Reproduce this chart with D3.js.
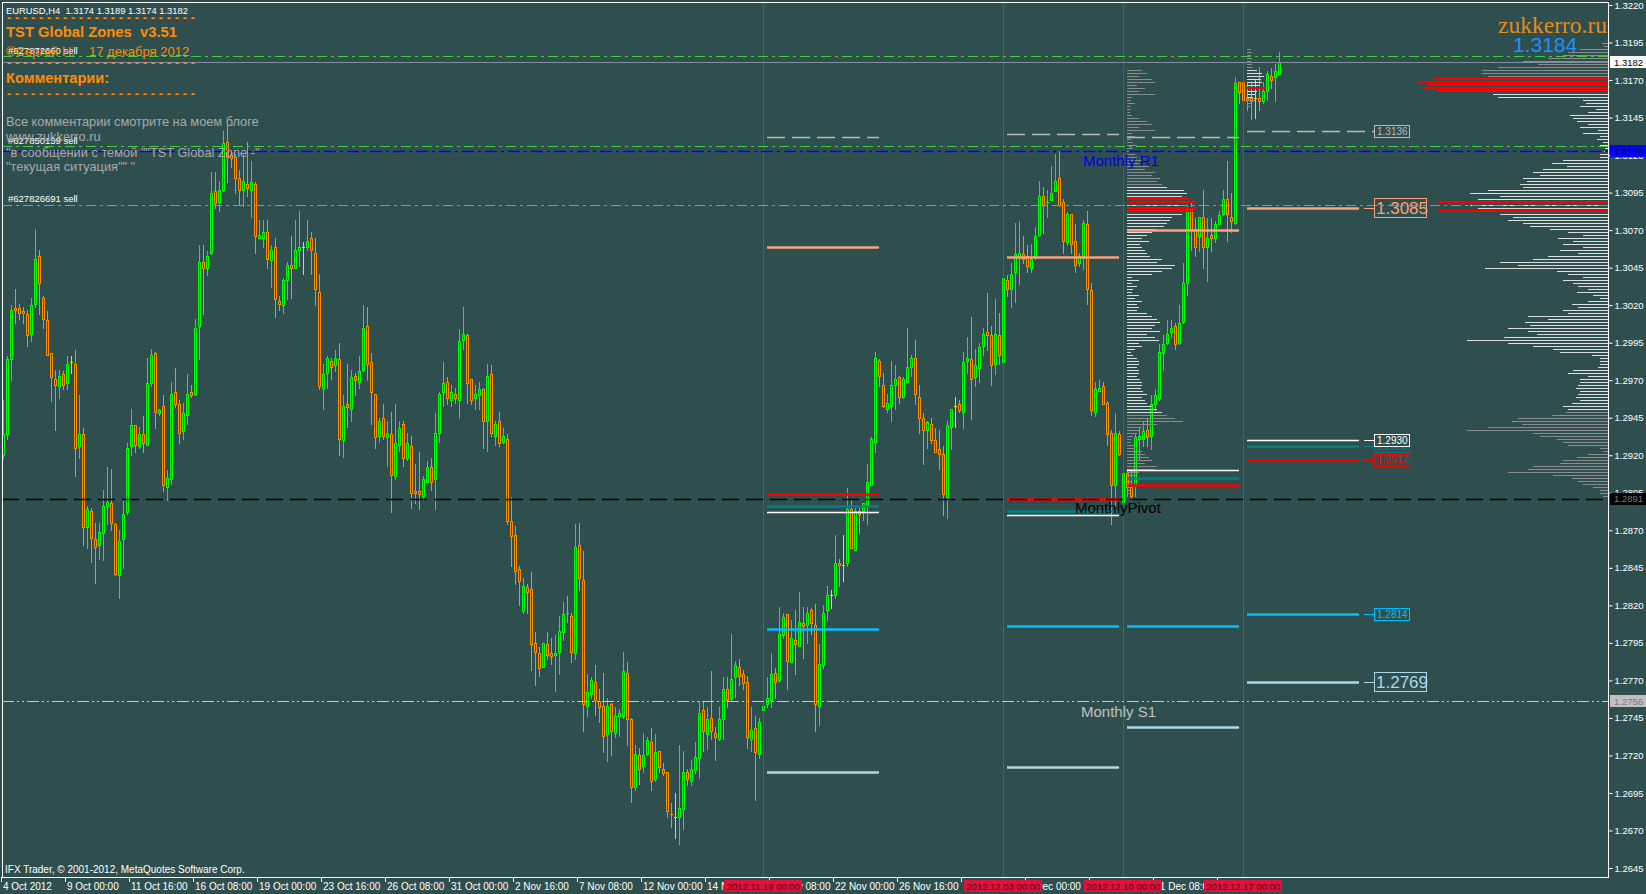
<!DOCTYPE html>
<html><head><meta charset="utf-8">
<script src="https://cdn.jsdelivr.net/npm/d3@7"></script>
<style>
html,body{margin:0;padding:0;background:#2F4F4F;overflow:hidden;}
svg{display:block;}
text{font-family:"Liberation Sans",Arial,sans-serif;white-space:pre;}
</style></head><body>
<svg id="chart" width="1646" height="894"></svg>
<script>
// ---------------- DATA ----------------
const symbolHeader = "EURUSD,H4  1.3174 1.3189 1.3174 1.3182";
// H4 candles: [open, high, low, close]
const candles = [
[1.2920,1.2957,1.2918,1.2934],[1.2934,1.2986,1.2931,1.2984],[1.2984,1.3020,1.2970,1.3017],[1.3018,1.3031,1.3008,1.3017],
[1.3018,1.3021,1.3011,1.3015],[1.3016,1.3019,1.3008,1.3015],[1.3014,1.3017,1.2993,1.3000],[1.3001,1.3025,1.2996,1.3020],
[1.3021,1.3071,1.3019,1.3051],[1.3053,1.3057,1.3014,1.3035],[1.3025,1.3026,1.3005,1.3011],[1.3010,1.3016,1.2987,1.2987],
[1.2988,1.2988,1.2956,1.2972],[1.2971,1.2977,1.2937,1.2967],[1.2966,1.2977,1.2958,1.2973],[1.2974,1.2976,1.2964,1.2967],
[1.2968,1.2986,1.2964,1.2981],[1.2982,1.2986,1.2975,1.2982],[1.2981,1.2990,1.2906,1.2925],[1.2926,1.2960,1.2918,1.2934],
[1.2934,1.2938,1.2860,1.2872],[1.2872,1.2886,1.2858,1.2884],[1.2883,1.2885,1.2849,1.2865],[1.2864,1.2875,1.2835,1.2859],
[1.2860,1.2875,1.2851,1.2869],[1.2868,1.2897,1.2850,1.2886],[1.2886,1.2912,1.2874,1.2889],[1.2888,1.2911,1.2870,1.2875],
[1.2874,1.2875,1.2840,1.2841],[1.2840,1.2870,1.2825,1.2863],[1.2864,1.2891,1.2845,1.2881],[1.2882,1.2928,1.2881,1.2925],
[1.2926,1.2951,1.2920,1.2940],[1.2940,1.2940,1.2922,1.2927],[1.2926,1.2939,1.2925,1.2934],[1.2934,1.2946,1.2922,1.2928],
[1.2927,1.2985,1.2927,1.2968],[1.2968,1.2991,1.2966,1.2987],[1.2988,1.2989,1.2938,1.2949],[1.2948,1.2951,1.2947,1.2950],
[1.2953,1.2960,1.2896,1.2900],[1.2899,1.2910,1.2890,1.2905],[1.2904,1.2969,1.2901,1.2961],[1.2962,1.2978,1.2952,1.2954],
[1.2954,1.2957,1.2928,1.2935],[1.2936,1.2955,1.2931,1.2948],[1.2947,1.2974,1.2941,1.2961],[1.2962,1.2967,1.2959,1.2960],
[1.2961,1.3011,1.2960,1.3005],[1.3006,1.3060,1.2984,1.3049],[1.3049,1.3060,1.3014,1.3045],[1.3045,1.3056,1.3040,1.3053],
[1.3055,1.3109,1.3054,1.3095],[1.3096,1.3109,1.3085,1.3088],[1.3089,1.3103,1.3083,1.3097],[1.3097,1.3136,1.3096,1.3128],
[1.3129,1.3140,1.3102,1.3119],[1.3120,1.3123,1.3112,1.3118],[1.3119,1.3121,1.3095,1.3105],[1.3105,1.3110,1.3087,1.3097],
[1.3097,1.3120,1.3086,1.3103],[1.3101,1.3129,1.3093,1.3098],[1.3097,1.3116,1.3079,1.3102],[1.3101,1.3102,1.3055,1.3066],
[1.3065,1.3077,1.3065,1.3067],[1.3065,1.3077,1.3059,1.3069],[1.3069,1.3077,1.3045,1.3051],[1.3050,1.3060,1.3032,1.3057],
[1.3059,1.3065,1.3012,1.3024],[1.3023,1.3026,1.3017,1.3021],[1.3020,1.3038,1.3015,1.3037],[1.3037,1.3049,1.3024,1.3047],
[1.3047,1.3066,1.3025,1.3045],[1.3045,1.3077,1.3045,1.3057],[1.3057,1.3083,1.3046,1.3059],[1.3059,1.3062,1.3041,1.3059],
[1.3059,1.3077,1.3057,1.3063],[1.3065,1.3069,1.3041,1.3057],[1.3055,1.3065,1.3020,1.3031],[1.3029,1.3041,1.2964,1.2966],
[1.2965,1.2981,1.2951,1.2974],[1.2975,1.2986,1.2965,1.2985],[1.2983,1.2985,1.2971,1.2979],[1.2980,1.2990,1.2976,1.2985],
[1.2984,1.2995,1.2920,1.2931],[1.2930,1.2960,1.2919,1.2953],[1.2954,1.2981,1.2939,1.2952],[1.2951,1.2977,1.2943,1.2972],
[1.2973,1.2975,1.2960,1.2970],[1.2969,1.2986,1.2965,1.2976],[1.2977,1.3020,1.2976,1.3005],[1.3006,1.3019,1.2970,1.2981],
[1.2982,1.2988,1.2941,1.2962],[1.2961,1.2961,1.2925,1.2932],[1.2933,1.2945,1.2929,1.2943],[1.2945,1.2954,1.2931,1.2933],
[1.2932,1.2943,1.2913,1.2935],[1.2934,1.2949,1.2882,1.2907],[1.2906,1.2954,1.2904,1.2928],[1.2927,1.2943,1.2923,1.2938],
[1.2941,1.2943,1.2913,1.2918],[1.2918,1.2935,1.2917,1.2928],[1.2926,1.2933,1.2885,1.2895],[1.2896,1.2914,1.2888,1.2895],
[1.2896,1.2922,1.2884,1.2894],[1.2893,1.2906,1.2890,1.2904],[1.2902,1.2916,1.2902,1.2912],[1.2912,1.2918,1.2897,1.2902],
[1.2904,1.2948,1.2884,1.2935],[1.2935,1.2962,1.2929,1.2961],[1.2962,1.2982,1.2953,1.2968],[1.2969,1.2972,1.2954,1.2958],
[1.2957,1.2967,1.2953,1.2962],[1.2961,1.2965,1.2955,1.2958],[1.2957,1.3004,1.2945,1.2996],[1.2997,1.3019,1.2991,1.3001],
[1.3000,1.3001,1.2955,1.2968],[1.2971,1.2971,1.2954,1.2957],[1.2958,1.2967,1.2951,1.2961],[1.2960,1.2969,1.2951,1.2964],
[1.2964,1.2965,1.2925,1.2943],[1.2943,1.2981,1.2923,1.2973],[1.2974,1.2980,1.2933,1.2935],[1.2933,1.2943,1.2927,1.2941],
[1.2943,1.2949,1.2926,1.2928],[1.2929,1.2938,1.2928,1.2933],[1.2931,1.2934,1.2874,1.2876],[1.2876,1.2892,1.2846,1.2866],
[1.2867,1.2873,1.2834,1.2843],[1.2844,1.2846,1.2820,1.2836],[1.2816,1.2838,1.2815,1.2833],[1.2832,1.2834,1.2815,1.2829],
[1.2831,1.2842,1.2777,1.2794],[1.2795,1.2802,1.2767,1.2789],[1.2788,1.2792,1.2773,1.2778],[1.2779,1.2795,1.2779,1.2795],
[1.2794,1.2802,1.2784,1.2787],[1.2788,1.2798,1.2781,1.2786],[1.2787,1.2800,1.2763,1.2788],[1.2789,1.2813,1.2774,1.2803],
[1.2802,1.2822,1.2797,1.2814],[1.2815,1.2826,1.2809,1.2814],[1.2813,1.2815,1.2782,1.2789],[1.2788,1.2874,1.2784,1.2859],
[1.2860,1.2875,1.2830,1.2838],[1.2837,1.2856,1.2736,1.2754],[1.2753,1.2774,1.2746,1.2762],[1.2761,1.2772,1.2758,1.2770],
[1.2769,1.2780,1.2747,1.2757],[1.2756,1.2764,1.2742,1.2752],[1.2753,1.2775,1.2722,1.2733],[1.2734,1.2758,1.2716,1.2753],
[1.2754,1.2755,1.2720,1.2736],[1.2735,1.2752,1.2732,1.2746],[1.2746,1.2751,1.2733,1.2748],[1.2746,1.2789,1.2745,1.2776],
[1.2775,1.2782,1.2727,1.2744],[1.2744,1.2745,1.2689,1.2699],[1.2699,1.2727,1.2697,1.2721],[1.2720,1.2725,1.2701,1.2711],
[1.2713,1.2735,1.2709,1.2720],[1.2721,1.2732,1.2720,1.2730],[1.2729,1.2738,1.2697,1.2703],[1.2704,1.2734,1.2703,1.2722],
[1.2723,1.2723,1.2709,1.2712],[1.2711,1.2715,1.2707,1.2708],[1.2709,1.2709,1.2679,1.2683],[1.2681,1.2688,1.2672,1.2680],
[1.2679,1.2695,1.2665,1.2679],[1.2679,1.2727,1.2661,1.2685],[1.2684,1.2723,1.2671,1.2709],[1.2709,1.2711,1.2700,1.2704],
[1.2703,1.2717,1.2700,1.2711],[1.2710,1.2729,1.2708,1.2719],[1.2718,1.2756,1.2705,1.2748],[1.2750,1.2756,1.2723,1.2736],
[1.2734,1.2752,1.2724,1.2744],[1.2745,1.2776,1.2731,1.2736],[1.2735,1.2739,1.2717,1.2732],[1.2731,1.2752,1.2730,1.2744],
[1.2744,1.2772,1.2731,1.2764],[1.2764,1.2772,1.2752,1.2757],[1.2758,1.2801,1.2757,1.2771],[1.2772,1.2783,1.2759,1.2780],
[1.2779,1.2784,1.2767,1.2773],[1.2774,1.2777,1.2764,1.2768],[1.2769,1.2773,1.2725,1.2732],[1.2731,1.2752,1.2723,1.2737],
[1.2738,1.2746,1.2690,1.2722],[1.2721,1.2745,1.2718,1.2742],[1.2750,1.2754,1.2749,1.2753],[1.2754,1.2772,1.2752,1.2758],
[1.2757,1.2788,1.2752,1.2774],[1.2775,1.2778,1.2758,1.2769],[1.2770,1.2819,1.2769,1.2801],[1.2800,1.2815,1.2798,1.2812],
[1.2814,1.2814,1.2764,1.2783],[1.2782,1.2810,1.2782,1.2798],[1.2797,1.2817,1.2774,1.2794],[1.2793,1.2829,1.2793,1.2809],
[1.2808,1.2819,1.2785,1.2806],[1.2807,1.2819,1.2795,1.2815],[1.2817,1.2818,1.2801,1.2808],[1.2807,1.2821,1.2736,1.2754],
[1.2753,1.2794,1.2740,1.2781],[1.2780,1.2820,1.2778,1.2815],[1.2817,1.2833,1.2810,1.2827],[1.2827,1.2830,1.2818,1.2827],
[1.2827,1.2867,1.2825,1.2848],[1.2848,1.2851,1.2833,1.2847],[1.2847,1.2867,1.2836,1.2847],[1.2848,1.2898,1.2846,1.2884],
[1.2884,1.2891,1.2858,1.2858],[1.2857,1.2885,1.2857,1.2883],[1.2883,1.2885,1.2868,1.2881],[1.2883,1.2888,1.2877,1.2888],
[1.2887,1.2914,1.2874,1.2902],[1.2900,1.2932,1.2900,1.2931],[1.2929,1.2989,1.2922,1.2985],[1.2983,1.2984,1.2966,1.2973],
[1.2967,1.2975,1.2952,1.2953],[1.2951,1.2961,1.2949,1.2955],[1.2953,1.2983,1.2943,1.2967],[1.2967,1.2980,1.2951,1.2971],
[1.2972,1.2973,1.2955,1.2959],[1.2959,1.2972,1.2958,1.2971],[1.2969,1.3005,1.2969,1.2979],[1.2979,1.2987,1.2973,1.2985],
[1.2985,1.2997,1.2954,1.2961],[1.2959,1.2967,1.2935,1.2945],[1.2945,1.2948,1.2914,1.2937],[1.2937,1.2943,1.2925,1.2942],
[1.2941,1.2945,1.2928,1.2930],[1.2930,1.2938,1.2922,1.2922],[1.2924,1.2937,1.2911,1.2921],[1.2921,1.2926,1.2880,1.2894],
[1.2892,1.2943,1.2878,1.2940],[1.2939,1.2951,1.2924,1.2951],[1.2953,1.2959,1.2939,1.2953],[1.2954,1.2957,1.2949,1.2950],
[1.2949,1.2989,1.2938,1.2982],[1.2983,1.2999,1.2975,1.2985],[1.2984,1.3012,1.2944,1.2971],[1.2972,1.2991,1.2966,1.2980],
[1.2978,1.2995,1.2969,1.2992],[1.2993,1.3005,1.2987,1.3001],[1.3002,1.3028,1.2990,1.3000],[1.3000,1.3006,1.2967,1.2980],
[1.2981,1.3024,1.2974,1.3001],[1.3000,1.3015,1.2981,1.2987],[1.2982,1.3039,1.2981,1.3038],[1.3037,1.3040,1.3026,1.3031],
[1.3031,1.3048,1.3019,1.3041],[1.3042,1.3075,1.3022,1.3054],[1.3052,1.3076,1.3034,1.3055],[1.3054,1.3066,1.3048,1.3051],
[1.3053,1.3060,1.3042,1.3046],[1.3045,1.3061,1.3042,1.3051],[1.3052,1.3072,1.3051,1.3066],[1.3067,1.3103,1.3066,1.3093],
[1.3093,1.3099,1.3068,1.3087],[1.3088,1.3097,1.3079,1.3089],[1.3090,1.3113,1.3090,1.3095],[1.3096,1.3121,1.3096,1.3103],
[1.3105,1.3123,1.3086,1.3087],[1.3089,1.3091,1.3055,1.3063],[1.3062,1.3082,1.3060,1.3081],[1.3081,1.3081,1.3055,1.3061],
[1.3063,1.3074,1.3042,1.3047],[1.3048,1.3055,1.3046,1.3053],[1.3053,1.3077,1.3044,1.3075],[1.3074,1.3083,1.3021,1.3031],
[1.3030,1.3035,1.2947,1.2950],[1.2949,1.2969,1.2946,1.2964],[1.2963,1.2970,1.2963,1.2965],[1.2966,1.2969,1.2954,1.2954],
[1.2955,1.2956,1.2927,1.2934],[1.2935,1.2937,1.2874,1.2900],[1.2900,1.2948,1.2886,1.2935],[1.2934,1.2936,1.2920,1.2921],
[1.2889,1.2910,1.2887,1.2908],[1.2908,1.2910,1.2893,1.2899],[1.2899,1.2911,1.2890,1.2893],[1.2900,1.2935,1.2893,1.2932],
[1.2931,1.2938,1.2917,1.2933],[1.2931,1.2943,1.2926,1.2936],[1.2937,1.2944,1.2926,1.2932],[1.2933,1.2960,1.2924,1.2954],
[1.2954,1.2964,1.2950,1.2960],[1.2958,1.2994,1.2957,1.2989],[1.2988,1.3000,1.2977,1.2994],[1.2995,1.3010,1.2994,1.3001],
[1.3002,1.3010,1.2999,1.3005],[1.3006,1.3008,1.2991,1.2994],[1.2995,1.3020,1.2994,1.3008],[1.3009,1.3048,1.3008,1.3035],
[1.3035,1.3086,1.3027,1.3083],[1.3085,1.3089,1.3057,1.3071],[1.3071,1.3078,1.3053,1.3059],[1.3066,1.3079,1.3056,1.3079],
[1.3079,1.3097,1.3045,1.3059],[1.3059,1.3078,1.3036,1.3065],[1.3067,1.3078,1.3056,1.3065],[1.3065,1.3076,1.3062,1.3074],
[1.3074,1.3083,1.3074,1.3080],[1.3081,1.3097,1.3080,1.3091],[1.3091,1.3116,1.3063,1.3081],[1.3079,1.3095,1.3069,1.3076],
[1.3075,1.3172,1.3074,1.3168],[1.3169,1.3169,1.3155,1.3162],[1.3169,1.3170,1.3155,1.3157],[1.3158,1.3168,1.3150,1.3157],
[1.3158,1.3168,1.3144,1.3156],[1.3158,1.3171,1.3145,1.3158],[1.3158,1.3179,1.3150,1.3156],[1.3156,1.3169,1.3155,1.3163],
[1.3163,1.3176,1.3157,1.3174],[1.3173,1.3178,1.3165,1.3170],[1.3172,1.3181,1.3156,1.3176],[1.3174,1.3189,1.3174,1.3182]
];

const priceTicks = [1.2645,1.2670,1.2695,1.2720,1.2745,1.2770,1.2795,1.2820,1.2845,1.2870,1.2895,1.2920,
                    1.2945,1.2970,1.2995,1.3020,1.3045,1.3070,1.3095,1.3120,1.3145,1.3170,1.3195,1.3220];

// time-axis ticks (bar index) and the labels that remain visible
const timeTickBars   = [0,16,32,48,64,80,96,112,128,144,160,176,192,208,224,240,256,272,288,304];
const timeTickLabels = ["4 Oct 2012","9 Oct 00:00","11 Oct 16:00","16 Oct 08:00","19 Oct 00:00","23 Oct 16:00",
  "26 Oct 08:00","31 Oct 00:00","2 Nov 16:00","7 Nov 08:00","12 Nov 00:00","14 Nov 16:00","19 Nov 08:00",
  "22 Nov 00:00","26 Nov 16:00","","4 Dec 00:00","","11 Dec 08:00",""];

const weekStartBars   = [190, 250, 280, 310];
const weekStartLabels = ["2012.11.19 00:00","2012.12.03 00:00","2012.12.10 00:00","2012.12.17 00:00"];

// weekly zone levels (one value per week above)
const zoneGrayDash  = [1.3132, 1.3134, 1.3132, 1.3136];
const zonePeach     = [1.3059, 1.3052, 1.3070, 1.3085];
const zoneLightBlue = [1.2709, 1.2712, 1.2739, 1.2769];
const zoneBlue      = [1.2804, 1.2806, 1.2806, 1.2814];
const zoneTeal      = [1.2886, 1.2883, 1.2905, 1.2926];
const zoneWhite     = [1.2882, 1.2880, 1.2910, 1.2930];
const zoneRed       = [1.2894, 1.2891, 1.2900, 1.2917];

const monthlyR1 = 1.3123, monthlyPivot = 1.2891, monthlyS1 = 1.2756;
const sellOrderPrices = [1.3186, 1.3126, 1.3087];
const sellOrderIds    = ["#627872660 sell", "#627850159 sell", "#627826691 sell"];
const lastPrice = 1.3182;
const askPriceText = "1.3184";

// volume profiles: volume per 2-pip level, from top price downward
const rightProfileTop = 1.3195;
const rightProfileVol = [6,4,28,40,45,60,85,70,110,126, 126,120,175,190,180,185,170,115,110,25,
  22,28,12,20,38,35,31,20,28,10, 25,8,11,5,8,3,4,8,8,45, 56,41,65,75,68,85,81,88,85,120,
  138,108,130,170,138,130,170,108,95,100, 85,78,58,40,25,50,35,45,25,48, 30,60,75,108,90,123,51,40,25,45,
  35,30,20,31,15,8,20,36,30,45, 40,80,60,83,78,100,80,71,104,141, 100,75,55,48,16,8,8,8,10,35,
  40,20,28,28,30,32,28,30,32,28, 36,45,40,42,56,90,96,86,120,141, 75,68,51,45,40,8,5,20,31,45,
  48,75,80,100,55,36,30,25,15,8, 8,5];
const rightProfileVA  = [1.2951, 1.3171];
const rightProfilePOC = [1.3171,1.3169,1.3167,1.3165,1.3163,1.3089,1.3083];

const weekProfileTop = 1.3177;
const weekProfileVol = [15,20,12,25,28,10,18,12,28,5, 4,8,3,4,3,5,12,20,25,12, 28,5,8,4,6,10,6,5,8,10,
  15,12,22,18,28,25,33,30,35,40, 57,60,55,62,68,58,68,66,55,45, 43,40,37,30,25,20,15,22,13,15,
  18,20,23,35,30,48,45,35,25,5, 12,5,10,6,5,12,8,15,10,12, 10,20,25,30,33,28,25,33,20,28,
  32,12,15,8,4,6,10,12,12,10, 12,12,10,13,15,15,14,16,20,15, 18,20,25,30,35,40,48,56,30,15,
  12,10,6,4,4,8,8,15,18,22, 25,18,30,28,12,8,6,5,4,4, 3,2];
const weekProfileVA  = [1.2949, 1.3099];
const weekProfilePOC = [1.3091,1.3089,1.3085,1.3083];

const curProfileTop = 1.3191;
const curProfileVol = [4,5,4,5,4,5,6,10,15,17,14,15,12,18,10,8,6,8,4,3];
const curProfileVA  = [1.3159, 1.3177];
const curProfilePOC = [1.3165];

const titleText = "TST Global Zones  v3.51";
const authorText = "©Сергей Н.";
const dateText = "17 декабря 2012";
const commentsTitle = "Комментарии:";
const commentLines = ["Все комментарии смотрите на моем блоге", "www.zukkerro.ru",
  "\"в сообщении с темой \"\"TST Global Zone -\"", "\"текущая ситуация\"\" \""];
const dashText = "- - - - - - - - - - - - - - - - - - - - - - - -";

// ---------------- DRAW ----------------
const BG = "#2F4F4F", UP = "#00FF00", DOWN = "#FF8C00", DOJI = "#FFD700";
const svg = d3.select("#chart");
const plot = {left: 2, right: 1608, top: 2, bottom: 877};
const y = d3.scaleLinear().domain([1.2645, 1.3220]).range([868, 5]);
const x = d3.scaleLinear().domain([0, 319]).range([3.3, 1279.3]);
const vol = d3.scaleLinear().domain([0, 100]).range([0, 100]);
const cr = v => Math.round(v) + 0.5;

svg.append("rect").attr("width", 1646).attr("height", 894).attr("fill", BG);

const gC = svg.append("g");
candles.forEach((d, i) => {
  const [o, h, l, c] = d;
  const cx = Math.round(x(i));
  const col = o === c ? DOJI : (c > o ? UP : DOWN);
  gC.append("line").attr("x1", cx + 0.5).attr("x2", cx + 0.5)
    .attr("y1", Math.round(y(h))).attr("y2", Math.round(y(l)) + 1).attr("stroke", col);
  const top = Math.round(y(Math.max(o, c))), bot = Math.round(y(Math.min(o, c)));
  if (bot - top < 2) {
    gC.append("line").attr("x1", cx - 1).attr("x2", cx + 2).attr("y1", top + 0.5).attr("y2", top + 0.5).attr("stroke", col);
  } else {
    gC.append("rect").attr("x", cx - 0.5).attr("y", top + 0.5).attr("width", 2).attr("height", bot - top)
      .attr("fill", BG).attr("stroke", col);
  }
});

// profiles
function drawProfile(top, vols, va, poc, anchorX, dir) {
  const g = svg.append("g");
  vols.forEach((v, k) => {
    const p = +(top - k * 0.0002).toFixed(4);
    const isPoc = poc.includes(p);
    const inVA = p >= va[0] - 1e-9 && p <= va[1] + 1e-9;
    const col = isPoc ? "#FF0000" : (inVA ? "#DCDCDC" : "#8C8C8C");
    const yy = isPoc ? Math.round(y(p)) : cr(y(p));
    g.append("line").attr("x1", anchorX).attr("x2", anchorX + dir * vol(v))
      .attr("y1", yy).attr("y2", yy).attr("stroke", col).attr("stroke-width", isPoc ? 2 : 1);
  });
}
drawProfile(rightProfileTop, rightProfileVol, rightProfileVA, rightProfilePOC, plot.right, -1);
drawProfile(weekProfileTop, weekProfileVol, weekProfileVA, weekProfilePOC, Math.round(x(281)), 1);
drawProfile(curProfileTop, curProfileVol, curProfileVA, curProfilePOC, Math.round(x(311)), 1);

// weekly zone lines
const gZ = svg.append("g");
const zoneDefs = [
  {vals: zoneGrayDash, col: "#B9B9B9", w: 1.5, dash: "18,7", big: false},
  {vals: zonePeach, col: "#FFA07A", w: 2.5, dash: null, big: true},
  {vals: zoneLightBlue, col: "#ADD8E6", w: 2.5, dash: null, big: true},
  {vals: zoneBlue, col: "#00BFFF", w: 2.5, dash: null, big: false},
  {vals: zoneTeal, col: "#008080", w: 2.5, dash: null, big: false},
  {vals: zoneWhite, col: "#FFFFFF", w: 1.5, dash: null, big: false},
  {vals: zoneRed, col: "#FF0000", w: 2.5, dash: null, big: false}
];
zoneDefs.forEach(z => {
  z.vals.forEach((v, wk) => {
    const b = weekStartBars[wk];
    const x1 = Math.round(x(b + 1)), x2 = Math.round(x(b + 29));
    const yy = Math.round(y(v)) + (z.w % 2 ? 0.5 : 0);
    const ln = gZ.append("line").attr("x1", x1).attr("x2", z.dash && wk === 3 ? x2 + 15 : x2)
      .attr("y1", yy).attr("y2", yy).attr("stroke", z.col).attr("stroke-width", z.w);
    if (z.dash) ln.attr("stroke-dasharray", z.dash);
  });
});
// labels for the current week
zoneDefs.forEach(z => {
  const v = z.vals[3];
  const x2 = Math.round(x(weekStartBars[3] + 29));
  const yy = Math.round(y(v)) + 0.5;
  if (!z.dash) gZ.append("line").attr("x1", x2 + 5).attr("x2", x2 + 15).attr("y1", yy).attr("y2", yy)
    .attr("stroke", z.col).attr("stroke-width", 1);
  const bw = z.big ? 52 : 35, bh = z.big ? 19 : 12;
  gZ.append("rect").attr("x", x2 + 15.5).attr("y", Math.round(y(v) - bh / 2) + 0.5).attr("width", bw).attr("height", bh)
    .attr("fill", BG).attr("stroke", z.col);
  gZ.append("text").attr("x", x2 + 17 + (z.big ? 0 : 1)).attr("y", y(v) + (z.big ? 6 : 3.5))
    .attr("fill", z.col).attr("font-size", z.big ? 17 : 10).text(v.toFixed(4));
});

// week separators
weekStartBars.forEach(b => {
  svg.append("line").attr("x1", cr(x(b))).attr("x2", cr(x(b))).attr("y1", plot.top).attr("y2", plot.bottom)
    .attr("stroke", "#C22A4A");
});

// horizontal monthly / order / price lines
function hline(p, col, dash, w) {
  const l = svg.append("line").attr("x1", plot.left).attr("x2", plot.right)
    .attr("y1", cr(y(p))).attr("y2", cr(y(p))).attr("stroke", col).attr("stroke-width", w || 1);
  if (dash) l.attr("stroke-dasharray", dash);
}
hline(lastPrice, "#7F9098", null, 1);
sellOrderPrices.forEach(p => hline(p, "#3FCC3F", "10,4,3,4", 1));
hline(monthlyR1, "#0000FF", "12,4,3,4", 1.5);
hline(monthlyPivot, "#000000", "17,7", 1.5);
hline(monthlyS1, "#C8C8C8", "12,3,2,3,2,3", 1);

svg.append("text").attr("x", 1083).attr("y", y(monthlyR1) + 15).attr("fill", "#0000E6").attr("font-size", 15).text("Monthly R1");
svg.append("text").attr("x", 1075).attr("y", y(monthlyPivot) + 14).attr("fill", "#000000").attr("font-size", 15).text("MonthlyPivot");
svg.append("text").attr("x", 1081).attr("y", y(monthlyS1) + 16).attr("fill", "#C0C0C0").attr("font-size", 15).text("Monthly S1");

// order labels
sellOrderPrices.forEach((p, k) => {
  svg.append("text").attr("x", 8).attr("y", y(p) - 2.5).attr("fill", "#FFFFFF").attr("font-size", 9.5).text(sellOrderIds[k]);
});

// top-left info block
const tl = svg.append("g");
tl.append("text").attr("x", 6).attr("y", 14).attr("fill", "#FFFFFF").attr("font-size", 9.4).text(symbolHeader);
[22, 67, 98].forEach(yy => tl.append("text").attr("x", 7).attr("y", yy).attr("fill", "#FF8C00")
  .attr("font-size", 13).attr("font-weight", "bold").attr("textLength", 188).attr("lengthAdjust", "spacing").text(dashText));
tl.append("text").attr("x", 6).attr("y", 37).attr("fill", "#FF8C00").attr("font-size", 14.8).attr("font-weight", "bold").text(titleText);
tl.append("text").attr("x", 6).attr("y", 55.5).attr("fill", "#FF8C00").attr("font-size", 13).text(authorText);
tl.append("text").attr("x", 89).attr("y", 55.5).attr("fill", "#FF8C00").attr("font-size", 13).text(dateText);
tl.append("text").attr("x", 6).attr("y", 82.5).attr("fill", "#FF8C00").attr("font-size", 14.6).attr("font-weight", "bold").text(commentsTitle);
[126, 141, 157, 171].forEach((yy, k) => tl.append("text").attr("x", 6).attr("y", yy).attr("fill", "#A9A9A9")
  .attr("font-size", 12.8).text(commentLines[k]));

// top-right
svg.append("text").attr("x", 1607).attr("y", 33).attr("text-anchor", "end").attr("fill", "#E8891C")
  .style("font-family", "'Liberation Serif','Times New Roman',serif")
  .attr("font-size", 23.5).text("zukkerro.ru");
svg.append("text").attr("x", 1513).attr("y", 52).attr("fill", "#1E90FF").attr("font-size", 21).text(askPriceText);

// frame
svg.append("rect").attr("x", plot.left + 0.5).attr("y", plot.top + 0.5)
  .attr("width", plot.right - plot.left).attr("height", plot.bottom - plot.top)
  .attr("fill", "none").attr("stroke", "#FFFFFF");

// price axis
const yAxis = d3.axisRight(y).tickValues(priceTicks).tickSize(4).tickFormat(d3.format(".4f"));
const ga = svg.append("g").attr("transform", `translate(${plot.right + 0.5},0)`).call(yAxis);
ga.select(".domain").remove();
ga.selectAll(".tick line").attr("stroke", "#FFFFFF");
ga.selectAll(".tick text").attr("fill", "#FFFFFF").attr("font-size", 9.5).attr("x", 6)
  .style("font-family", "'Liberation Sans',Arial,sans-serif");

// axis price boxes
function axisBox(p, bg, fg) {
  svg.append("rect").attr("x", plot.right + 2).attr("y", Math.round(y(p)) - 6).attr("width", 38).attr("height", 12).attr("fill", bg);
  svg.append("text").attr("x", plot.right + 6).attr("y", y(p) + 3.5).attr("fill", fg).attr("font-size", 9.5).text(p.toFixed(4));
}
axisBox(lastPrice, "#FFFFFF", "#000000");
axisBox(monthlyR1, "#0000FF", "#10103A");
axisBox(monthlyPivot, "#000000", "#7A7A7A");
axisBox(monthlyS1, "#C0C0C0", "#7A7A7A");

// time axis
const gt = svg.append("g");
timeTickBars.forEach((b, k) => {
  const tx = Math.round(x(b)) - 2;
  gt.append("line").attr("x1", tx + 0.5).attr("x2", tx + 0.5).attr("y1", plot.bottom).attr("y2", plot.bottom + 5).attr("stroke", "#FFFFFF");
  if (timeTickLabels[k]) gt.append("text").attr("x", tx + 2).attr("y", 890).attr("fill", "#FFFFFF").attr("font-size", 10).text(timeTickLabels[k]);
});
weekStartBars.forEach((b, k) => {
  const cx = x(b);
  gt.append("rect").attr("x", Math.round(cx - 39)).attr("y", 880).attr("width", 78).attr("height", 12).attr("fill", "#DC143C");
  gt.append("text").attr("x", cx).attr("y", 889.5).attr("text-anchor", "middle").attr("fill", "#6A0010").attr("font-size", 9.5).text(weekStartLabels[k]);
});

svg.append("text").attr("x", 5).attr("y", 873).attr("fill", "#FFFFFF").attr("font-size", 10)
  .text("IFX Trader, © 2001-2012, MetaQuotes Software Corp.");
</script></body></html>
